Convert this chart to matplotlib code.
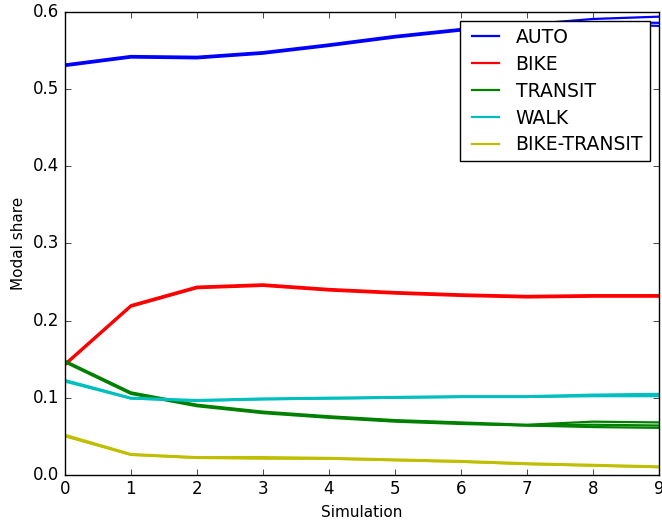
import numpy as np
import matplotlib
matplotlib.use("Agg")
import matplotlib.pyplot as plt

plt.style.use('classic')

sims = np.arange(10)

# three simulation runs per mode
auto_runs = [
    [0.531, 0.542, 0.541, 0.547, 0.557, 0.568, 0.577, 0.584, 0.591, 0.594],
    [0.532, 0.543, 0.542, 0.548, 0.558, 0.569, 0.578, 0.583, 0.587, 0.586],
    [0.530, 0.541, 0.540, 0.546, 0.556, 0.567, 0.576, 0.582, 0.585, 0.582],
]
bike_runs = [
    [0.143, 0.219, 0.243, 0.246, 0.240, 0.236, 0.233, 0.231, 0.232, 0.232],
    [0.144, 0.220, 0.244, 0.247, 0.241, 0.237, 0.234, 0.232, 0.233, 0.233],
    [0.142, 0.218, 0.242, 0.245, 0.239, 0.235, 0.232, 0.230, 0.231, 0.231],
]
transit_runs = [
    [0.148, 0.107, 0.091, 0.082, 0.076, 0.071, 0.068, 0.065, 0.069, 0.068],
    [0.147, 0.106, 0.090, 0.081, 0.075, 0.070, 0.067, 0.064, 0.065, 0.064],
    [0.146, 0.105, 0.089, 0.080, 0.074, 0.069, 0.066, 0.064, 0.062, 0.061],
]
walk_runs = [
    [0.123, 0.100, 0.097, 0.099, 0.100, 0.101, 0.102, 0.102, 0.104, 0.105],
    [0.122, 0.099, 0.096, 0.098, 0.099, 0.100, 0.101, 0.101, 0.103, 0.104],
    [0.121, 0.099, 0.096, 0.098, 0.099, 0.100, 0.101, 0.101, 0.102, 0.102],
]
bike_transit_runs = [
    [0.052, 0.027, 0.023, 0.023, 0.022, 0.020, 0.018, 0.015, 0.013, 0.011],
    [0.051, 0.026, 0.022, 0.022, 0.021, 0.019, 0.017, 0.014, 0.012, 0.010],
    [0.050, 0.026, 0.022, 0.021, 0.021, 0.019, 0.017, 0.014, 0.012, 0.010],
]

modes = ['AUTO', 'BIKE', 'TRANSIT', 'WALK', 'BIKE-TRANSIT']
colors = ['b', 'r', 'g', 'c', 'y']
all_runs = [auto_runs, bike_runs, transit_runs, walk_runs, bike_transit_runs]

fig = plt.figure(figsize=(6.62, 5.23), dpi=100, facecolor='white')
ax = fig.add_axes([0.098, 0.092, 0.8975, 0.885])

for mode, c, runs in zip(modes, colors, all_runs):
    for i, r in enumerate(runs):
        ax.plot(sims, r, color=c, lw=1.6, label=mode if i == 0 else None)

ax.set_xlim(0, 9)
ax.set_ylim(0, 0.6)
ax.set_xticks(range(10))
ax.set_yticks(np.arange(0, 0.61, 0.1))
ax.set_xlabel('Simulation', fontsize=11)
ax.set_ylabel('Modal share', fontsize=11)
ax.legend(loc='upper right', fontsize=13.5, labelspacing=0.42,
          borderpad=0.35, handletextpad=0.6)

plt.savefig('out.png', dpi=100, facecolor='white')
